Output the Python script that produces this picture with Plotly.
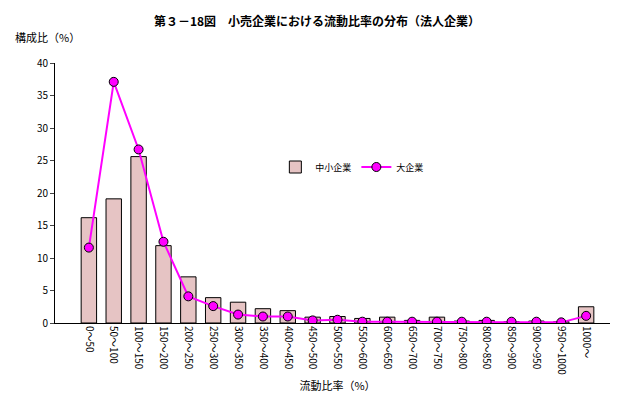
import plotly.graph_objects as go

categories = ["0～50","50～100","100～150","150～200","200～250","250～300","300～350","350～400","400～450","450～500","500～550","550～600","600～650","650～700","700～750","750～800","800～850","850～900","900～950","950～1000","1000～"]
sme = [16.2,19.1,25.6,11.9,7.1,3.9,3.2,2.2,1.9,0.9,1.0,0.7,0.9,0.4,0.9,0.3,0.4,0.2,0.3,0.2,2.5]
large = [11.6,37.1,26.7,12.5,4.1,2.6,1.3,1.0,1.0,0.4,0.5,0.2,0.2,0.2,0.2,0.2,0.2,0.2,0.2,0.1,1.1]

font = "Noto Sans CJK JP"
fig = go.Figure()
fig.add_bar(x=categories, y=sme, name="中小企業",
            marker=dict(color="#e6c4c4", line=dict(color="black", width=1)), width=0.62)
fig.add_scatter(x=categories, y=large, name="大企業", mode="lines+markers",
                line=dict(color="#ff00ff", width=2),
                marker=dict(size=9, color="#ff00ff", line=dict(color="black", width=1)))
fig.update_layout(
    width=618, height=402, paper_bgcolor="white", plot_bgcolor="white",
    margin=dict(l=47, r=6, t=55, b=87),
    font=dict(family=font, size=11, color="black"),
    title=dict(text="<b>第３－18図　小売企業における流動比率の分布（法人企業）</b>", x=0.5, y=0.975,
               xanchor="center", font=dict(size=12)),
    legend=dict(orientation="h", x=0.39, y=0.6, xanchor="left", yanchor="middle",
                font=dict(size=9), bgcolor="rgba(0,0,0,0)"),
    xaxis=dict(tickangle=90, showline=True, linecolor="black", ticks="", automargin=False,
               tickfont=dict(size=10), title=dict(text="流動比率（%）", font=dict(size=11), standoff=8)),
    yaxis=dict(range=[0,40], dtick=5, showline=True, linecolor="black", ticks="outside", automargin=False,
               ticklen=4, showgrid=False, zeroline=False, tickfont=dict(size=10)),
)
fig.add_annotation(text="構成比（%）", xref="paper", yref="paper", x=-0.075, y=1.06,
                   xanchor="left", yanchor="bottom", showarrow=False, font=dict(size=11))
fig.write_html("out.html")
